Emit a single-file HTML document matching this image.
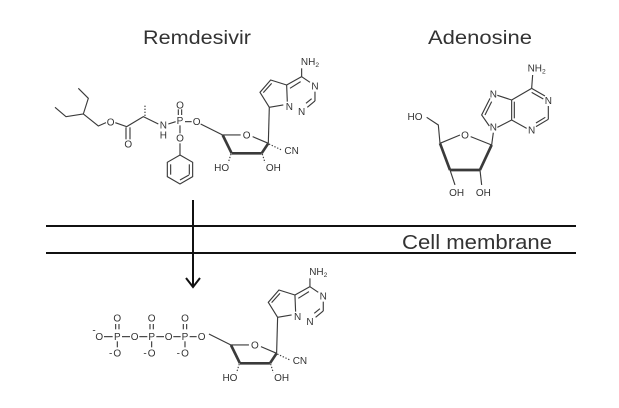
<!DOCTYPE html>
<html><head><meta charset="utf-8"><style>
html,body{margin:0;padding:0;background:#fff;width:619px;height:408px;overflow:hidden}
svg{display:block}
text{font-family:"Liberation Sans",sans-serif;fill:#333}
.m line,.m polyline,.m polygon{stroke:#3a3a3a;stroke-width:3.4;fill:none}
.m text{font-size:30px;text-anchor:middle}
.b{stroke-width:8!important}
.d{stroke-dasharray:4 5}
</style></head><body>
<svg width="619" height="408" viewBox="0 0 619 408">
<rect width="619" height="408" fill="#fff"/>
<!-- titles -->
<text x="143" y="44" font-size="19" textLength="108" lengthAdjust="spacingAndGlyphs" fill="#1a1a1a">Remdesivir</text>
<text x="428" y="44" font-size="19" textLength="104" lengthAdjust="spacingAndGlyphs" fill="#1a1a1a">Adenosine</text>
<!-- membrane -->
<line x1="46" y1="226" x2="576" y2="226" stroke="#111" stroke-width="2"/>
<line x1="46" y1="253" x2="576" y2="253" stroke="#111" stroke-width="2"/>
<text x="402" y="249" font-size="20" textLength="150" lengthAdjust="spacingAndGlyphs" fill="#1a1a1a">Cell membrane</text>
<!-- arrow -->
<line x1="193" y1="200" x2="193" y2="286" stroke="#111" stroke-width="2"/>
<polyline points="186,278 193,287 200,278" stroke="#111" stroke-width="2" fill="none"/>

<!-- Remdesivir left part -->
<g class="m" transform="translate(30,20) scale(0.3333)">
<polyline points="75,262 108,290 160,282 205,318 228,308"/>
<polyline points="160,282 175,235 145,205"/>
<text x="242" y="316">O</text>
<polyline points="256,308 290,320 340,290 385,312"/>
<line x1="288" y1="322" x2="288" y2="358"/><line x1="300" y1="322" x2="300" y2="358"/>
<text x="295" y="382">O</text>
<line class="d" x1="345" y1="288" x2="345" y2="252"/>
<text x="400" y="325">N</text><text x="400" y="356">H</text>
<line x1="415" y1="312" x2="437" y2="305"/>
<text x="450" y="312">P</text>
<line x1="445" y1="285" x2="445" y2="268"/><line x1="455" y1="285" x2="455" y2="268"/>
<text x="450" y="265">O</text>
<line x1="465" y1="305" x2="485" y2="305"/>
<text x="500" y="315">O</text>
<line x1="450" y1="316" x2="450" y2="340"/>
<text x="450" y="365">O</text>
<line x1="450" y1="370" x2="450" y2="405"/>
<polygon points="450,405 488,427 488,470 450,492 412,470 412,427"/>
<line x1="422" y1="433" x2="422" y2="464"/><line x1="478" y1="433" x2="478" y2="464"/><line x1="450" y1="480" x2="477" y2="465"/>
</g>

<!-- nucleoside top -->
<g class="m" transform="translate(30,20) scale(0.3333)">
<polyline points="512,312 548,330 578,345"/>
<line x1="578" y1="345" x2="632" y2="345"/>
<text x="650" y="356">O</text>
<line x1="668" y1="350" x2="715" y2="370"/>
<line class="b" x1="578" y1="345" x2="605" y2="400"/>
<line class="b" x1="605" y1="400" x2="695" y2="400"/>
<line class="b" x1="695" y1="400" x2="715" y2="370"/>
<line class="d" x1="603" y1="402" x2="595" y2="428"/>
<text x="575" y="453">HO</text>
<line class="d" x1="697" y1="402" x2="705" y2="428"/>
<text x="730" y="453">OH</text>
<line class="d" x1="717" y1="372" x2="755" y2="390"/>
<text x="785" y="402">CN</text>
<line x1="715" y1="370" x2="718" y2="262"/>
<polyline points="718,262 690,217 722,180 770,195"/>
<line x1="700" y1="218" x2="725" y2="190"/>
<line x1="770" y1="195" x2="772" y2="245"/>
<line x1="760" y1="255" x2="718" y2="262"/>
<line x1="770" y1="195" x2="815" y2="170"/>
<line x1="780" y1="205" x2="812" y2="185"/>
<line x1="815" y1="170" x2="840" y2="187"/>
<text x="855" y="208">N</text>
<line x1="855" y1="215" x2="855" y2="243"/>
<line x1="855" y1="243" x2="832" y2="262"/><line x1="845" y1="236" x2="828" y2="250"/>
<text x="815" y="285">N</text>
<text x="778" y="270">N</text>
<line x1="815" y1="170" x2="815" y2="145"/>
<text x="840" y="135">NH<tspan font-size="20" dy="6">2</tspan></text>
</g>

<!-- Adenosine -->
<g class="m" transform="translate(360,20) scale(0.3333)">
<text x="165" y="300">HO</text>
<polyline points="200,292 235,315 240,370"/>
<line x1="240" y1="370" x2="300" y2="345"/>
<text x="315" y="356">O</text>
<line x1="332" y1="350" x2="395" y2="375"/>
<line class="b" x1="240" y1="370" x2="270" y2="450"/>
<line class="b" x1="270" y1="450" x2="360" y2="450"/>
<line class="b" x1="360" y1="450" x2="395" y2="375"/>
<line x1="270" y1="450" x2="285" y2="495"/>
<line x1="360" y1="450" x2="365" y2="495"/>
<text x="290" y="528">OH</text><text x="370" y="528">OH</text>
<line x1="395" y1="375" x2="400" y2="338"/>
<text x="400" y="332">N</text>
<polyline points="388,318 365,285 390,235"/>
<line x1="375" y1="285" x2="395" y2="245"/>
<text x="400" y="232">N</text>
<line x1="412" y1="226" x2="455" y2="240"/>
<line x1="455" y1="240" x2="455" y2="300"/><line x1="463" y1="245" x2="463" y2="295"/>
<line x1="455" y1="300" x2="412" y2="322"/>
<line x1="455" y1="240" x2="515" y2="205"/>
<line x1="515" y1="205" x2="555" y2="228"/><line x1="515" y1="217" x2="550" y2="237"/>
<text x="565" y="252">N</text>
<line x1="565" y1="258" x2="565" y2="298"/>
<line x1="565" y1="298" x2="528" y2="320"/><line x1="556" y1="292" x2="528" y2="309"/>
<text x="515" y="340">N</text>
<line x1="500" y1="325" x2="455" y2="300"/>
<line x1="515" y1="205" x2="518" y2="165"/>
<text x="530" y="155">NH<tspan font-size="20" dy="6">2</tspan></text>
</g>

<!-- bottom triphosphate -->
<g class="m" transform="translate(20,210) scale(0.3333)">
<text x="238" y="390">O</text><text x="222" y="370" font-size="22">-</text>
<line x1="252" y1="380" x2="278" y2="380"/>
<text x="292" y="390">P</text>
<line x1="287" y1="358" x2="287" y2="342"/><line x1="297" y1="358" x2="297" y2="342"/>
<text x="292" y="335">O</text>
<line x1="292" y1="394" x2="292" y2="412"/>
<text x="292" y="440">O</text><text x="272" y="440" font-size="22">-</text>
<line x1="306" y1="380" x2="330" y2="380"/>
<text x="344" y="390">O</text>
<line x1="358" y1="380" x2="382" y2="380"/>
<text x="395" y="390">P</text>
<line x1="390" y1="358" x2="390" y2="342"/><line x1="400" y1="358" x2="400" y2="342"/>
<text x="395" y="335">O</text>
<line x1="395" y1="394" x2="395" y2="412"/>
<text x="395" y="440">O</text><text x="375" y="440" font-size="22">-</text>
<line x1="409" y1="380" x2="432" y2="380"/>
<text x="446" y="390">O</text>
<line x1="460" y1="380" x2="482" y2="380"/>
<text x="495" y="390">P</text>
<line x1="490" y1="358" x2="490" y2="342"/><line x1="500" y1="358" x2="500" y2="342"/>
<text x="495" y="335">O</text>
<line x1="495" y1="394" x2="495" y2="412"/>
<text x="495" y="440">O</text><text x="475" y="440" font-size="22">-</text>
<line x1="509" y1="380" x2="530" y2="380"/>
<text x="545" y="390">O</text>
</g>

<!-- nucleoside bottom -->
<g class="m" transform="translate(38.3,230) scale(0.3333)">
<polyline points="512,312 548,330 578,345"/>
<line x1="578" y1="345" x2="632" y2="345"/>
<text x="650" y="356">O</text>
<line x1="668" y1="350" x2="715" y2="370"/>
<line class="b" x1="578" y1="345" x2="605" y2="400"/>
<line class="b" x1="605" y1="400" x2="695" y2="400"/>
<line class="b" x1="695" y1="400" x2="715" y2="370"/>
<line class="d" x1="603" y1="402" x2="595" y2="428"/>
<text x="575" y="453">HO</text>
<line class="d" x1="697" y1="402" x2="705" y2="428"/>
<text x="730" y="453">OH</text>
<line class="d" x1="717" y1="372" x2="755" y2="390"/>
<text x="785" y="402">CN</text>
<line x1="715" y1="370" x2="718" y2="262"/>
<polyline points="718,262 690,217 722,180 770,195"/>
<line x1="700" y1="218" x2="725" y2="190"/>
<line x1="770" y1="195" x2="772" y2="245"/>
<line x1="760" y1="255" x2="718" y2="262"/>
<line x1="770" y1="195" x2="815" y2="170"/>
<line x1="780" y1="205" x2="812" y2="185"/>
<line x1="815" y1="170" x2="840" y2="187"/>
<text x="855" y="208">N</text>
<line x1="855" y1="215" x2="855" y2="243"/>
<line x1="855" y1="243" x2="832" y2="262"/><line x1="845" y1="236" x2="828" y2="250"/>
<text x="815" y="285">N</text>
<text x="778" y="270">N</text>
<line x1="815" y1="170" x2="815" y2="145"/>
<text x="840" y="135">NH<tspan font-size="20" dy="6">2</tspan></text>
</g>
</svg>
</body></html>
